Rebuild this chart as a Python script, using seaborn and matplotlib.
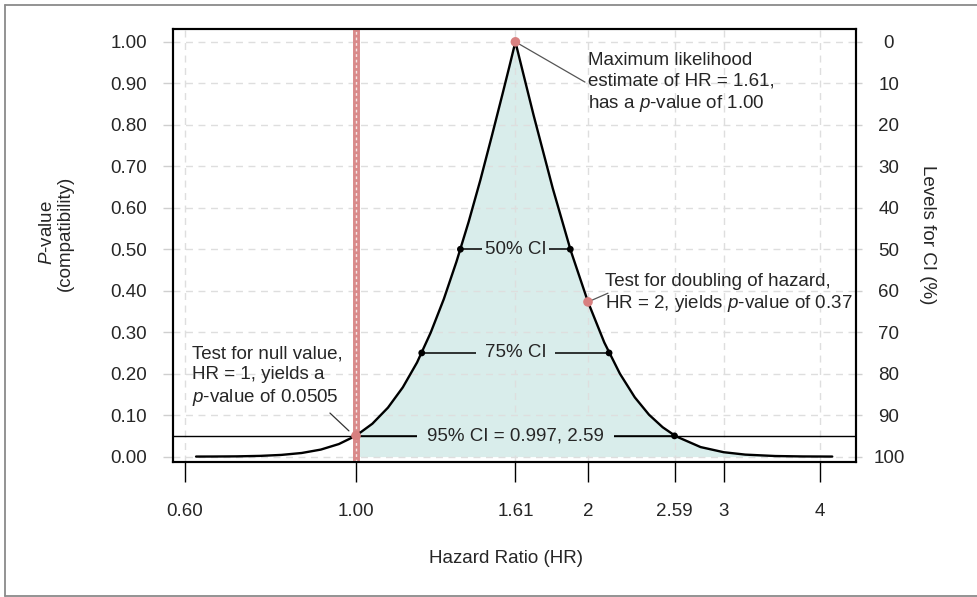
import numpy as np
import pandas as pd
import matplotlib
matplotlib.use("Agg")
import matplotlib.pyplot as plt
from matplotlib.lines import Line2D
import seaborn as sns

# P-value function
hr_values = [0.62, 0.65, 0.70, 0.75, 0.80, 0.85, 0.90, 0.95, 1.00, 1.05, 1.10, 1.15,
             1.20, 1.25, 1.30, 1.35, 1.40, 1.45, 1.50, 1.55, 1.58, 1.61, 1.65, 1.70,
             1.80, 1.90, 2.00, 2.10, 2.20, 2.30, 2.40, 2.50, 2.60, 2.80, 3.00, 3.20,
             3.50, 3.80, 4.15]
p_values = [0.0001, 0.0002, 0.0006, 0.0017, 0.0041, 0.0087, 0.0169, 0.0303, 0.0505,
            0.0793, 0.118, 0.167, 0.227, 0.299, 0.380, 0.470, 0.566, 0.667, 0.772,
            0.876, 0.938, 1.00, 0.920, 0.823, 0.647, 0.496, 0.373, 0.275, 0.200,
            0.143, 0.101, 0.0708, 0.0491, 0.0230, 0.0106, 0.0048, 0.0014, 0.0004,
            0.0001]

# confidence intervals
ci_labels = ["50% CI", "75% CI", "95% CI = 0.997, 2.59"]
ci_p = [0.50, 0.25, 0.05]
ci_lower = [1.366, 1.217, 0.997]
ci_upper = [1.897, 2.13, 2.59]

# highlighted tests
mle_hr, mle_p = 1.61, 1.00
double_hr, double_p = 2.0, 0.373
null_hr, null_p = 1.0, 0.0505

x_ticks = [0.6, 1.0, 1.61, 2, 2.59, 3, 4]
x_tick_labels = ["0.60", "1.00", "1.61", "2", "2.59", "3", "4"]
y_ticks = [0.0, 0.1, 0.2, 0.3, 0.4, 0.5, 0.6, 0.7, 0.8, 0.9, 1.0]
ci_level_ticks = [0, 10, 20, 30, 40, 50, 60, 70, 80, 90, 100]

FILL = "#d9edeb"
PINK = "#d88080"
FS = 13.5

sns.set_theme(style="white")
plt.rcParams["font.family"] = ["Liberation Sans", "DejaVu Sans"]
plt.rcParams["mathtext.fontset"] = "custom"
plt.rcParams["mathtext.it"] = "Liberation Sans:italic"
plt.rcParams["mathtext.rm"] = "Liberation Sans"

df = pd.DataFrame({"hr": hr_values, "p": p_values})

fig = plt.figure(figsize=(9.78, 5.97), dpi=100)
ax = fig.add_axes([173 / 978, 1 - 462 / 597, (856 - 173) / 978, (462 - 29) / 597])

ax.set_xscale("log")
ax.set_xlim(0.5787, 4.455)
ax.set_ylim(-0.013, 1.031)
ax.set_axisbelow(True)
ax.grid(True, color="#dedede", lw=1, linestyle=(0, (5, 4)))

# shaded area right of the null value
hr_arr = np.array(hr_values)
ax.fill_between(hr_arr, p_values, 0, where=hr_arr >= 1.0, color=FILL, lw=0, zorder=0.3)

# p = 0.05 reference line and null line
ax.axhline(0.05, color="black", lw=1, zorder=2)
ax.axvline(1.0, color="#d98a8a", lw=5, zorder=3)
ax.axvline(1.0, color="white", lw=1, ls=(0, (2, 2)), alpha=0.8, zorder=3.1)

# the curve
sns.lineplot(data=df, x="hr", y="p", ax=ax, color="black", lw=1.7, zorder=4)

# CI segments
pads = [0.15, 0.45, 0.55]
for lab, p, lo, hi, pad in zip(ci_labels, ci_p, ci_lower, ci_upper, pads):
    ax.plot([lo, hi], [p, p], color="black", lw=1.1, zorder=2.5)
    ax.text(1.61, p, lab, ha="center", va="center", fontsize=FS, zorder=3.5,
            bbox=dict(boxstyle=f"square,pad={pad}", fc=FILL, ec="none"))

sns.scatterplot(x=ci_lower + ci_upper, y=ci_p + ci_p, ax=ax, color="black",
                s=24, edgecolor="none", zorder=5, legend=False)
sns.scatterplot(x=[mle_hr, double_hr, null_hr], y=[mle_p, double_p, null_p], ax=ax,
                color=PINK, s=48, edgecolor="none", zorder=6, legend=False)

# annotations
ax.plot([mle_hr, 1.982], [mle_p, 0.903], color="#555555", lw=0.9, zorder=4.5)
ax.text(2.0, 0.900, "Maximum likelihood\nestimate of HR = 1.61,\nhas a $p$-value of 1.00",
        ha="left", va="center", fontsize=FS, linespacing=1.25)
ax.plot([double_hr, 2.123], [double_p, 0.394], color="#555555", lw=0.9, zorder=4.5)
ax.text(2.104, 0.393, "Test for doubling of hazard,\nHR = 2, yields $p$-value of 0.37",
        ha="left", va="center", fontsize=FS, linespacing=1.25)
ax.plot([0.925, 0.979], [0.105, 0.062], color="#333333", lw=0.9, zorder=4.5)
ax.text(0.6126, 0.192, "Test for null value,\nHR = 1, yields a\n$p$-value of 0.0505",
        ha="left", va="center", fontsize=FS, linespacing=1.25)

# axes styling
ax.set_xticks(x_ticks)
ax.set_xticklabels(x_tick_labels)
ax.xaxis.set_minor_locator(matplotlib.ticker.NullLocator())
ax.set_yticks(y_ticks)
ax.set_yticklabels([f"{v:.2f}" for v in y_ticks])
ax.tick_params(axis="x", bottom=True, length=14.4, width=1, color="black",
               pad=15, labelsize=FS)
ax.tick_params(axis="y", left=True, length=7.2, width=1, color="#cfcfcf",
               pad=11.5, labelsize=FS)
ax.set_xlabel("")
ax.set_ylabel("")
for sp in ax.spines.values():
    sp.set_color("black")
    sp.set_linewidth(1.5)

ax2 = ax.twinx()
ax2.set_ylim((1 - (-0.013)) * 100, (1 - 1.031) * 100)
ax2.set_yticks(ci_level_ticks)
ax2.tick_params(axis="y", right=True, length=4.3, width=1, color="#cfcfcf",
                pad=19.4, labelsize=FS)
for lbl in ax2.get_yticklabels():
    lbl.set_horizontalalignment("center")
for sp in ax2.spines.values():
    sp.set_color("black")
    sp.set_linewidth(1.5)
ax2.grid(False)

# axis titles
ax.text(0.488, -0.222, "Hazard Ratio (HR)", transform=ax.transAxes,
        ha="center", va="center", fontsize=FS)
ax.text(-0.171, 0.529, "$P$-value\n(compatibility)", transform=ax.transAxes,
        ha="center", va="center", rotation=90, fontsize=FS, linespacing=1.1)
ax.text(1.105, 0.524, "Levels for CI (%)", transform=ax.transAxes,
        ha="center", va="center", rotation=270, fontsize=FS)

# outer frame
fx0, fy0, fy1 = 5 / 978, 1 - 5 / 597, 1 - 595.5 / 597
for xs, ys in [([fx0, 1], [fy0, fy0]), ([fx0, fx0], [fy0, fy1]), ([fx0, 1], [fy1, fy1])]:
    fig.add_artist(Line2D(xs, ys, color="#8a8a8a", lw=1.3, transform=fig.transFigure))

fig.savefig("out.png", dpi=100)
